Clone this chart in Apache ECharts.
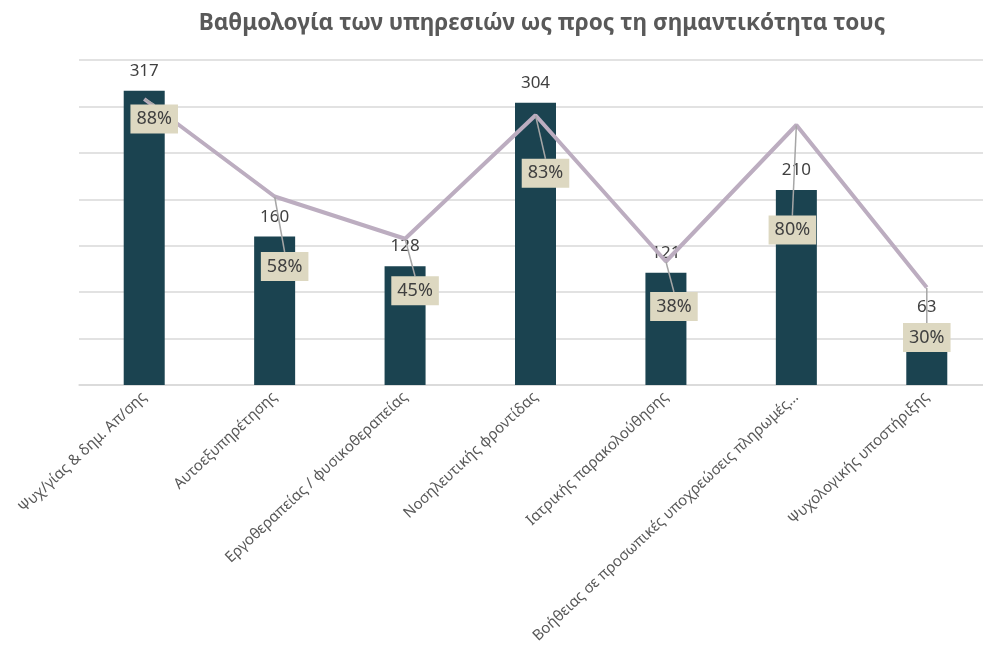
<!DOCTYPE html>
<html>
<head>
<meta charset="utf-8">
<script src="https://cdn.jsdelivr.net/npm/echarts@6/dist/echarts.min.js"></script>
<style>
  html, body { margin: 0; padding: 0; background: #fff; }
  #chart { width: 983px; height: 651px; }
</style>
</head>
<body>
<div id="chart"></div>
<script>
const categories = [
  'Ψυχ/γίας & δημ. Απ/σης',
  'Αυτοεξυπηρέτησης',
  'Εργοθεραπείας / φυσικοθεραπείας',
  'Νοσηλευτικής φροντίδας',
  'Ιατρικής παρακολούθησης',
  'Βοήθειας σε προσωπικές υποχρεώσεις πληρωμές…',
  'Ψυχολογικής υποστήριξης'
]
const counts = [317, 160, 128, 304, 121, 210, 63]
const importance = [0.88, 0.58, 0.45, 0.83, 0.38, 0.80, 0.30]

// callout offsets (px) of the percentage labels, as moved in the original
const calloutOffsets = [[10, 20], [10, 70], [10, 52], [10, 58], [8, 45], [-4, 105], [0, 50]]

const font = '"Noto Sans", "Open Sans", sans-serif'
const chart = echarts.init(document.getElementById('chart'))

chart.setOption({
  animation: false,
  title: {
    text: 'Βαθμολογία των υπηρεσιών ως προς τη σημαντικότητα τους',
    left: 537,
    top: 7,
    textAlign: 'center',
    textStyle: { fontFamily: font, fontSize: 22.6, fontWeight: 'bold', color: '#595959' },
  },
  grid: { left: 79, top: 60, width: 913, height: 325, outerBoundsMode: 'none' },
  xAxis: {
    type: 'category',
    data: categories,
    axisTick: { show: false },
    axisLine: { lineStyle: { color: '#d9d9d9', width: 1.5 } },
    axisLabel: {
      rotate: 43,
      interval: 0,
      margin: 10,
      fontFamily: font,
      fontSize: 15,
      color: '#595959',
    },
  },
  yAxis: [
    {
      type: 'value',
      min: 0,
      max: 350,
      interval: 50,
      axisLabel: { show: false },
      axisLine: { show: false },
      axisTick: { show: false },
      splitLine: { lineStyle: { color: '#d9d9d9', width: 1.5 } },
    },
    {
      type: 'value',
      min: 0,
      max: 1,
      show: false,
      splitLine: { show: false },
    },
  ],
  series: [
    {
      type: 'bar',
      data: counts,
      barWidth: 41,
      itemStyle: { color: '#1b4350' },
      label: {
        show: true,
        position: 'top',
        distance: 11,
        fontFamily: font,
        fontSize: 17,
        color: '#404040',
      },
    },
    {
      type: 'line',
      yAxisIndex: 1,
      data: importance,
      symbol: 'circle',
      symbolSize: 1,
      itemStyle: { color: 'rgba(0,0,0,0)' },
      lineStyle: { color: '#bcadc0', width: 4 },
      z: 3,
      label: {
        show: true,
        position: 'inside',
        formatter: (p) => Math.round(p.value * 100) + '%',
        fontFamily: font,
        fontSize: 18,
        lineHeight: 21,
        color: '#404040',
        backgroundColor: '#ddd8c1',
        padding: [5, 6, 3, 6],
      },
      labelLine: { show: true, lineStyle: { color: '#a6a6a6', width: 1.5 } },
      labelLayout: (p) => ({
        dx: calloutOffsets[p.dataIndex][0],
        dy: calloutOffsets[p.dataIndex][1],
      }),
    },
  ],
})
</script>
</body>
</html>
